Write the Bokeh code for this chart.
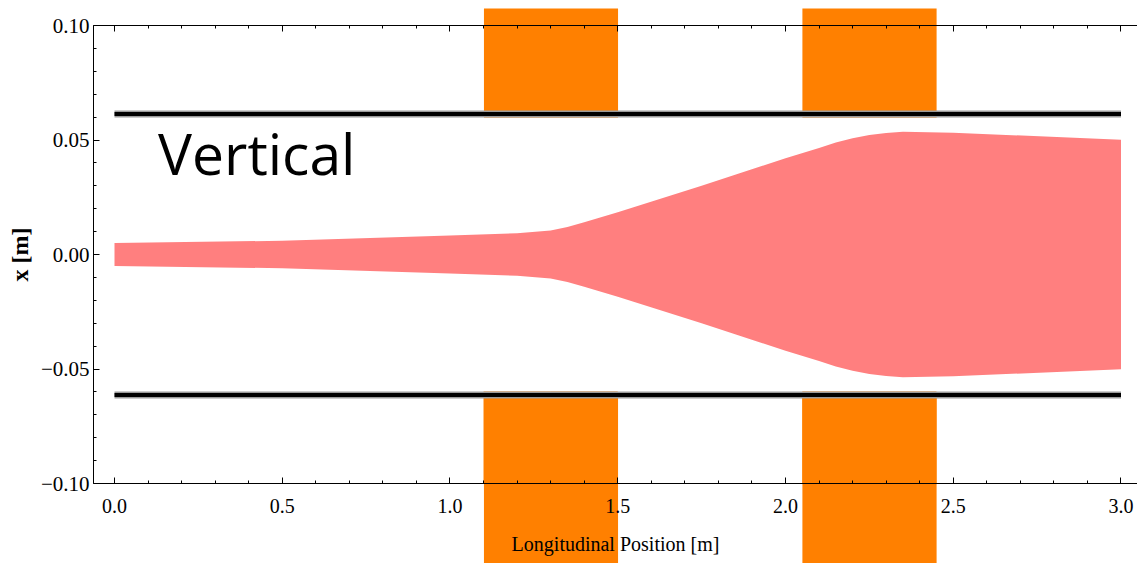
from bokeh.plotting import figure
from bokeh.models import Range1d, FixedTicker, LinearAxis, NumeralTickFormatter
from bokeh.core.properties import value
from bokeh.embed import file_html
from bokeh.resources import INLINE
import numpy as np

# ---- data ----
env_x = [0.0, 0.5, 1.0, 1.2, 1.3, 1.35, 1.4, 1.5, 1.75, 2.0, 2.1, 2.15, 2.2, 2.25, 2.3, 2.35, 2.5, 3.0]
env_upper = [0.0050, 0.0060, 0.0083, 0.0093, 0.0105, 0.0120, 0.0141, 0.0185, 0.0300, 0.0420,
             0.0465, 0.0489, 0.0508, 0.0522, 0.0531, 0.0536, 0.0532, 0.0501]
env_lower = [-0.0050, -0.0060, -0.0083, -0.0093, -0.0105, -0.0120, -0.0141, -0.0185, -0.0300, -0.0420,
             -0.0465, -0.0489, -0.0508, -0.0522, -0.0531, -0.0536, -0.0532, -0.0501]

pipe_x = [0.0, 3.0]
pipe_upper = [0.0613, 0.0613]
pipe_lower = [-0.0613, -0.0613]

magnet_left = [1.1, 1.3, 2.05]
magnet_right = [1.3, 1.5, 2.45]
magnet_inner = 0.0598

x_ticks = [0.0, 0.5, 1.0, 1.5, 2.0, 2.5, 3.0]
x_tick_labels = ["0.0", "0.5", "1.0", "1.5", "2.0", "2.5", "3.0"]
y_ticks = [-0.1, -0.05, 0.0, 0.05, 0.1]
y_tick_labels = ["\u22120.10", "\u22120.05", "0.00", "0.05", "0.10"]

note_x = [0.13]
note_y = [0.0444]
note_text = ["Vertical"]

x_label = "Longitudinal Position [m]"
y_label = "x [m]"

ORANGE = "#ff8000"

# ---- figure geometry ----
W, H = 1137, 563
BL, BR, BT, BB = 93, 0, 25, 80
x_start, x_end = -0.0626, 3.0492
y_start, y_end = -0.1, 0.1
px_per_x = (W - BL - BR) / (x_end - x_start)
px_per_y = (H - BT - BB) / (y_end - y_start)

p = figure(width=W, height=H,
           x_range=Range1d(x_start, x_end), y_range=Range1d(y_start, y_end),
           output_backend="svg", toolbar_location=None,
           min_border_left=BL, min_border_right=BR, min_border_top=BT, min_border_bottom=BB,
           outline_line_color=None, background_fill_color="white", border_fill_color="white",
           x_axis_label=x_label, y_axis_label=y_label)
p.xgrid.visible = False
p.ygrid.visible = False

x_minor = [round(v, 2) for v in np.arange(0.0, 3.0001, 0.1)]
y_minor = [round(v, 3) for v in np.arange(-0.1, 0.1001, 0.01)]
xt = FixedTicker(ticks=x_ticks, minor_ticks=x_minor)
yt = FixedTicker(ticks=y_ticks, minor_ticks=y_minor)

bx = p.below[0]
ly = p.left[0]

top_axis = LinearAxis(ticker=xt)
p.add_layout(top_axis, "above")
top_axis.major_label_text_font_size = "0px"
top_axis.major_label_standoff = 0
top_axis.major_label_overrides = {t: "" for t in x_ticks}

bx.ticker = xt
ly.ticker = yt
bx.formatter = NumeralTickFormatter(format="0.0")
bx.major_label_overrides = dict(zip(x_ticks, x_tick_labels))
ly.major_label_overrides = dict(zip(y_ticks, y_tick_labels))

for ax in [bx, ly, top_axis]:
    ax.level = "overlay"
    ax.axis_line_color = "black"
    ax.axis_line_width = 1
    ax.major_tick_in = 6
    ax.major_tick_out = 0
    ax.minor_tick_in = 3
    ax.minor_tick_out = 0
    ax.major_tick_line_color = "black"
    ax.minor_tick_line_color = "black"

bx.major_label_text_font = "Liberation Serif"
bx.major_label_text_font_size = "20px"
bx.major_label_text_color = "black"
bx.major_label_standoff = 15
bx.axis_label_text_font = "Liberation Serif"
bx.axis_label_text_font_size = "20px"
bx.axis_label_text_font_style = "normal"
bx.axis_label_text_color = "black"
bx.axis_label_standoff = 17

ly.major_label_text_font = "Liberation Serif"
ly.major_label_text_font_size = "21px"
ly.major_label_text_color = "black"
ly.major_label_standoff = 4
ly.axis_label_text_font = "Liberation Serif"
ly.axis_label_text_font_size = "24px"
ly.axis_label_text_font_style = "bold"
ly.axis_label_text_color = "black"
ly.axis_label_standoff = 5

# beam envelope
p.varea(x=env_x, y1=env_lower, y2=env_upper, fill_color="#ff7f7f", fill_alpha=1.0)

# lower magnets inside the frame
p.quad(left=magnet_left, right=magnet_right,
       bottom=[y_start] * len(magnet_left), top=[-magnet_inner] * len(magnet_left),
       fill_color=ORANGE, line_color=None)

# magnets reaching beyond the frame: very wide ticks of tick-only axes in the side panels
widths = [r - l for l, r in zip(magnet_left, magnet_right)]
centers = [(l + r) / 2 for l, r in zip(magnet_left, magnet_right)]
w_major = max(widths)
major_c = [c for c, w in zip(centers, widths) if abs(w - w_major) < 1e-9]
minor_c = [c for c, w in zip(centers, widths) if abs(w - w_major) >= 1e-9]
w_minor = min(widths)

top_in = (y_end - magnet_inner) * px_per_y          # from frame top down to the pipe
for side, t_in, t_out in [("above", top_in, 17), ("below", 165, 6)]:
    mag = LinearAxis(ticker=FixedTicker(ticks=major_c, minor_ticks=minor_c),
                     axis_line_color=None,
                     major_tick_in=int(round(t_in)), major_tick_out=t_out,
                     minor_tick_in=int(round(t_in)), minor_tick_out=t_out,
                     major_tick_line_color=ORANGE, minor_tick_line_color=ORANGE,
                     major_tick_line_width=w_major * px_per_x,
                     minor_tick_line_width=w_minor * px_per_x,
                     major_tick_line_cap="butt", minor_tick_line_cap="butt",
                     major_label_standoff=0,
                     major_label_text_font_size="0px",
                     major_label_text_color=None,
                     major_label_overrides={c: "" for c in major_c})
    mag.level = "guide"
    p.add_layout(mag, side)

# beam pipe
for py in [pipe_upper, pipe_lower]:
    p.line(pipe_x, py, line_color="#9a9a9a", line_width=7, level="overlay")
    p.line(pipe_x, py, line_color="black", line_width=4, level="overlay")

p.text(x=note_x, y=note_y, text=note_text, text_font=value("Open Sans"),
       text_font_size="57px", text_baseline="alphabetic", text_align="left",
       text_color="black")

open("out.html", "w").write(file_html(p, INLINE))
